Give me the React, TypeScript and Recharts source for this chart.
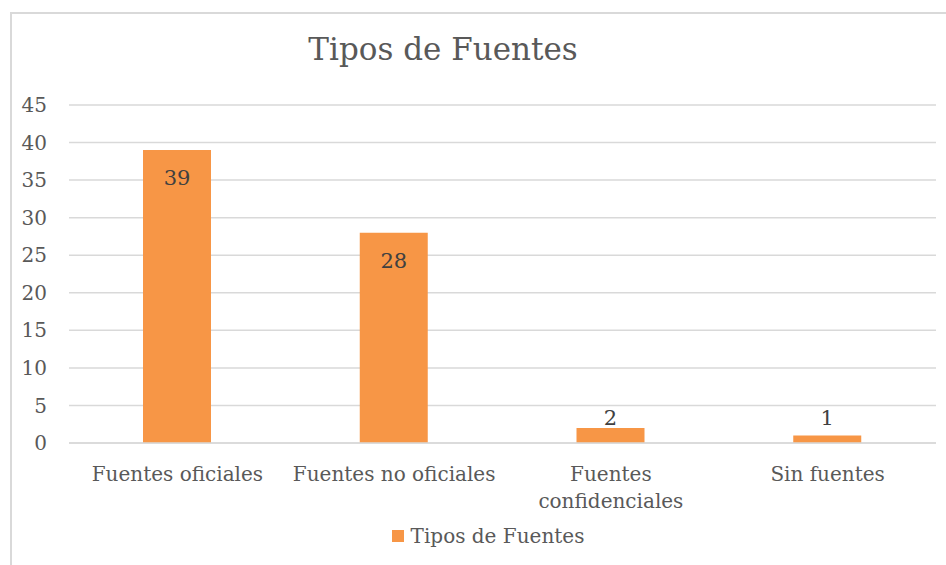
import React from "react";
import { Bar, BarChart, CartesianGrid, LabelList, XAxis, YAxis } from "recharts";

const categories = ["Fuentes oficiales", "Fuentes no oficiales", "Fuentes confidenciales", "Sin fuentes"];
const counts = [39, 28, 2, 1];
const yTicks = [0, 5, 10, 15, 20, 25, 30, 35, 40, 45];

const seriesName = "Tipos de Fuentes";
const barColor = "#F79646";
const textColor = "#595959";
const font = "'DejaVu Serif', serif";

const data = categories.map((name, i) => ({ name, value: counts[i] }));

function CategoryTick({ x, y, payload }: any) {
  const label: string = payload.value;
  const lines = label.length > 20 ? label.split(" ") : [label];
  return (
    <text x={x} y={y} textAnchor="middle" fill={textColor} fontSize={20} fontFamily={font}>
      {lines.map((line, i) => (
        <tspan key={i} x={x} dy={i === 0 ? 30 : 27}>
          {line}
        </tspan>
      ))}
    </text>
  );
}

function ValueLabel({ x, y, width, height, value }: any) {
  const inside = height > 40;
  const cy = inside ? y + 28 : y + height - 25;
  return (
    <text
      x={x + width / 2}
      y={cy}
      textAnchor="middle"
      dominantBaseline="central"
      fill="#404040"
      fontSize={21}
      fontFamily={font}
    >
      {value}
    </text>
  );
}

export default function App() {
  return (
    <div style={{ position: "absolute", left: 0, top: 0, width: 946, height: 565, background: "#fff" }}>
      <div
        style={{
          position: "absolute",
          left: 10,
          top: 12,
          width: 940,
          height: 560,
          borderLeft: "2px solid #d9d9d9",
          borderTop: "2px solid #d9d9d9",
        }}
      />
      <div
        style={{
          position: "absolute",
          left: 243,
          top: 31,
          width: 400,
          textAlign: "center",
          fontFamily: font,
          fontSize: 31,
          color: textColor,
        }}
      >
        {seriesName}
      </div>
      <div style={{ position: "absolute", left: 0, top: 0 }}>
        <BarChart width={946} height={565} data={data} margin={{ top: 105, right: 10, bottom: 72, left: 0 }} barSize={68}>
          <CartesianGrid vertical={false} stroke="#d9d9d9" strokeWidth={1.5} />
          <XAxis
            dataKey="name"
            axisLine={{ stroke: "#d9d9d9", strokeWidth: 1.5 }}
            tickLine={false}
            tick={<CategoryTick />}
            interval={0}
            height={50}
          />
          <YAxis
            domain={[0, 45]}
            ticks={yTicks}
            width={69}
            axisLine={false}
            tickLine={false}
            tickSize={0}
            tickMargin={22}
            tick={{ fill: textColor, fontSize: 20, fontFamily: font }}
            interval={0}
          />
          <Bar dataKey="value" name={seriesName} fill={barColor} isAnimationActive={false}>
            <LabelList dataKey="value" content={<ValueLabel />} />
          </Bar>
        </BarChart>
      </div>
      <div
        style={{
          position: "absolute",
          left: 0,
          top: 524,
          width: 976,
          display: "flex",
          justifyContent: "center",
          alignItems: "center",
          fontFamily: font,
          fontSize: 20,
          color: textColor,
        }}
      >
        <span style={{ display: "inline-block", width: 12, height: 12, background: barColor, marginRight: 7 }} />
        <span>{seriesName}</span>
      </div>
    </div>
  );
}
